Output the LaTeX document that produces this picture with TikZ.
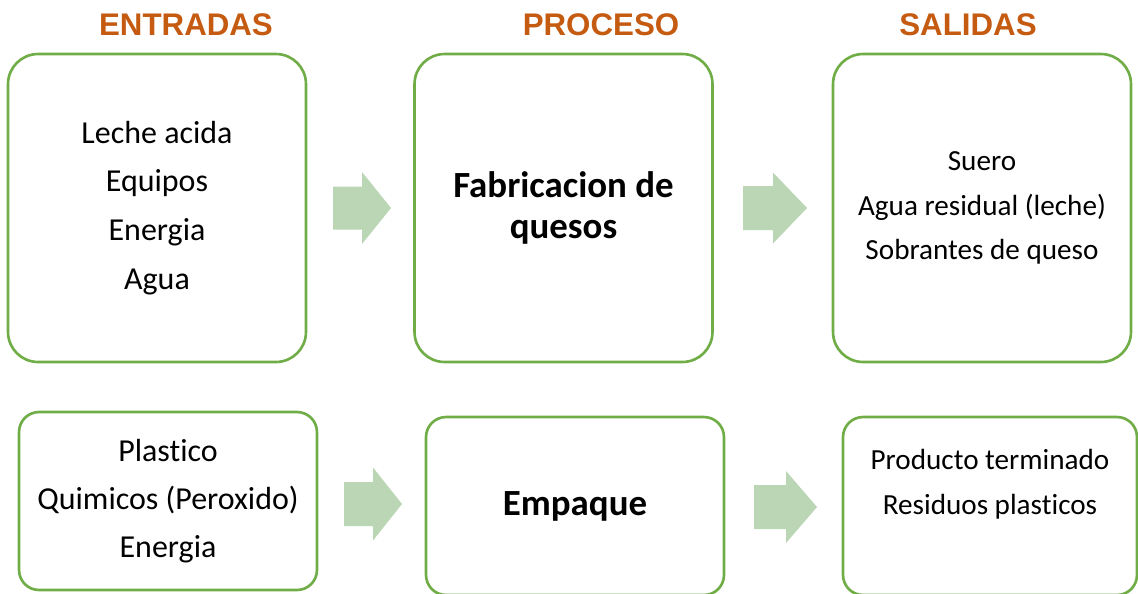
\documentclass[tikz,border=0pt]{standalone}
\usepackage{fontspec}
\setmainfont{Carlito}[Ligatures=NoCommon]
\newfontfamily\titulofont{Liberation Sans}

\definecolor{verde}{RGB}{112,173,71}
\definecolor{verdeclaro}{RGB}{187,214,180}
\definecolor{naranja}{RGB}{197,90,17}

% flecha ancha: cola, base de la punta, punta, y central, medio cuerpo, media punta
\newcommand{\flecha}[6]{%
  \fill[flechaancha] (#1,#4-#5) -- (#2,#4-#5) -- (#2,#4-#6) -- (#3,#4)
    -- (#2,#4+#6) -- (#2,#4+#5) -- (#1,#4+#5) -- cycle;}

\begin{document}
\begin{tikzpicture}[x=0.02cm, y=-0.02cm,
    caja/.style={draw=verde, line width=1.5pt, rounded corners=0.6cm,
      minimum width=5.96cm, minimum height=6.16cm, align=center, inner sep=0pt},
    cajachica/.style={caja, rounded corners=0.4cm, minimum height=3.56cm},
    titulo/.style={font=\titulofont\bfseries\fontsize{17.8}{20}\selectfont, text=naranja},
    texto/.style={font=\fontsize{16.6}{25.5}\selectfont},
    textogrande/.style={font=\fontsize{18.2}{27.8}\selectfont},
    negrita/.style={font=\bfseries\fontsize{21}{23.2}\selectfont},
    flechaancha/.style={fill=verdeclaro}]

    % margenes de la figura
    \useasboundingbox (0,0) rectangle (1138,593);

    % titulos de columna
    \node[titulo] (entradas) at (186,25) {ENTRADAS};
    \node[titulo] (proceso)  at (601,25) {PROCESO};
    \node[titulo] (salidas)  at (968,25) {SALIDAS};

    % fila de arriba
    \node[caja, textogrande] (leche) at (157,208)
      {Leche acida\\Equipos\\Energia\\Agua};
    \node[caja, negrita] (fabricacion) at (563.5,208)
      {Fabricacion de\\quesos};
    \node[caja, texto] (suero) at (982,208)
      {Suero\\Agua residual (leche)\\Sobrantes de queso};

    % fila de abajo
    \node[cajachica, textogrande, font=\fontsize{18.2}{27.5}\selectfont] (plastico) at (168,501)
      {Plastico\\Quimicos (Peroxido)\\Energia};
    \node[cajachica, negrita] (empaque) at (575,506) {Empaque};
    \node[cajachica, minimum width=5.88cm] (producto) at (990,506) {};
    \node[texto, align=center] (productotxt)
      at (990,484.5) {Producto terminado\\Residuos plasticos};

    % flechas
    \flecha{333}{362}{391}{208}{21.5}{36}
    \flecha{743}{773}{807}{208}{22}{35.5}
    \flecha{344}{373}{402}{504}{22}{36.5}
    \flecha{754}{786}{817}{507}{22}{36}
\end{tikzpicture}
\end{document}
